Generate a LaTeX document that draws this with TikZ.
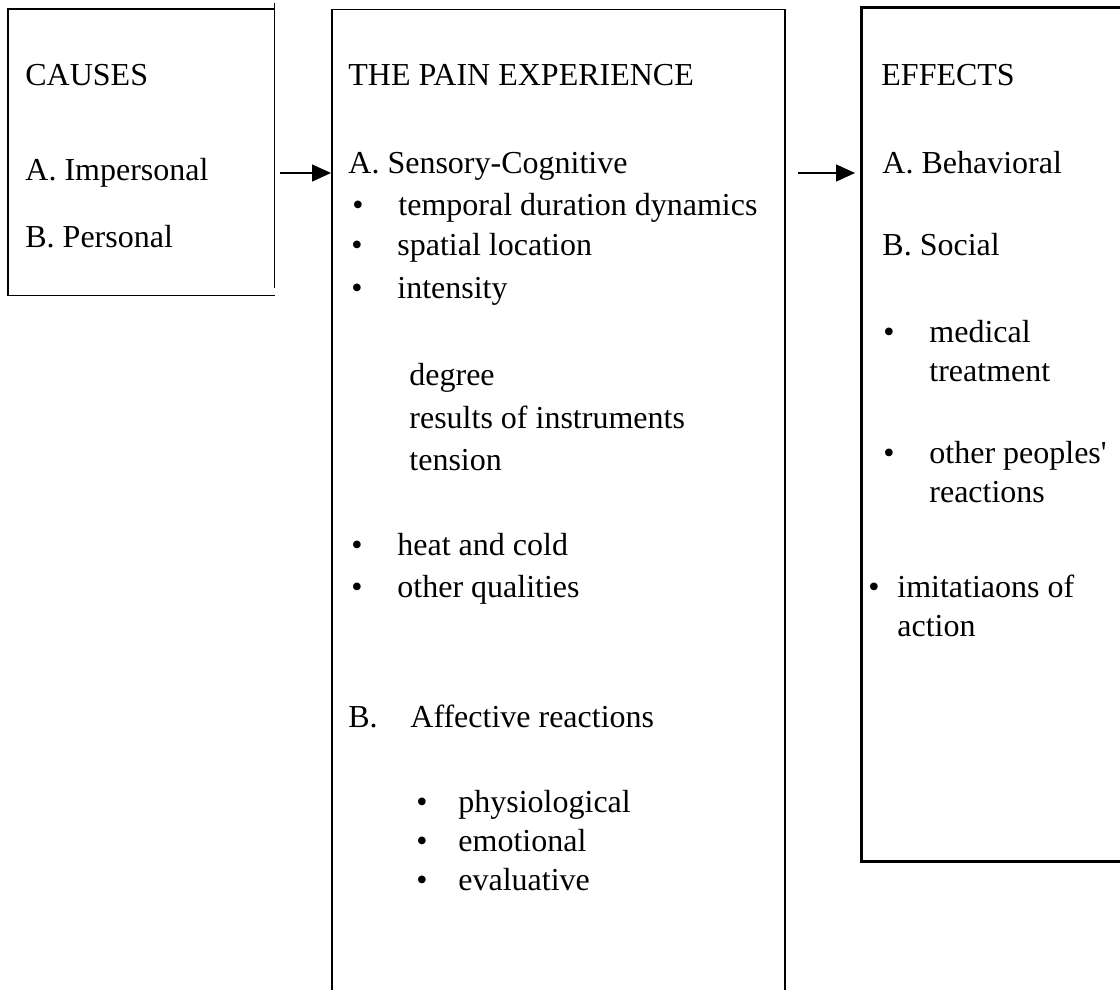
\documentclass[tikz,border=0pt]{standalone}
\usepackage{fontspec}
\setmainfont{Liberation Serif}
\usetikzlibrary{arrows.meta}

\begin{document}
\begin{tikzpicture}[x=0.5pt, y=-0.5pt,
        txt/.style={anchor=base west, inner sep=0pt, font=\fontsize{16pt}{19pt}\selectfont},
        panel/.style={anchor=north west, inner sep=0pt, line width=0.75pt},
        thickpanel/.style={panel, line width=1.5pt},
        link/.style={line width=0.75pt, -{Triangle[length=9.5pt, width=8.5pt]}}
    ]
        \useasboundingbox (0,0) rectangle (1120,990);

        % Boxes
        \node[panel, minimum width=132.5pt, minimum height=142.5pt] (causes) at (8,9) {};
        \draw[line width=0.75pt] (causes.south east) -- (causes.south west) -- (causes.north west) -- (causes.north east);
        \draw[line width=0.75pt] ([yshift=3pt]causes.north east) -- ([yshift=4pt]causes.south east);
        \node[panel, draw, minimum width=226.5pt, minimum height=500.5pt] (pain) at (331,9) {};
        \node[thickpanel, draw, minimum width=140pt, minimum height=427pt] (effects) at (860,6) {};

        % Arrows
        \coordinate (a1) at (280,173);
        \coordinate (a2) at (798,173);
        \draw[link] (a1) -- (a1 -| pain.west);
        \draw[link] (a2) -- ([xshift=-2.5pt]a2 -| effects.west);

        % Causes
        \node[txt] (ctitle) at (25,86) {CAUSES};
        \node[txt] (cimp) at (25,181) {A. Impersonal};
        \node[txt] (cper) at (25,248) {B. Personal};

        % The pain experience
        \node[txt] (ptitle) at (348,86) {THE PAIN EXPERIENCE};
        \node[txt] (psens) at (348,174) {A. Sensory-Cognitive};
        \node[txt] (pb1) at (352,215) {\textbullet};
        \node[txt] (ptemp) at (398,215) {temporal duration dynamics};
        \node[txt] (pb2) at (351,256) {\textbullet};
        \node[txt] (pspat) at (397,256) {spatial location};
        \node[txt] (pb3) at (351,299) {\textbullet};
        \node[txt] (pint) at (397,299) {intensity};
        \node[txt] (pdeg) at (409,385) {degree};
        \node[txt] (pres) at (409,428) {results of instruments};
        \node[txt] (pten) at (409,470) {tension};
        \node[txt] (pb4) at (351,555) {\textbullet};
        \node[txt] (pheat) at (397,555) {heat and cold};
        \node[txt] (pb5) at (351,597) {\textbullet};
        \node[txt] (poth) at (397,597) {other qualities};
        \node[txt] (paffb) at (348,727) {B.};
        \node[txt] (paff) at (410,727) {Affective reactions};
        \node[txt] (pb6) at (416,812) {\textbullet};
        \node[txt] (pphys) at (458,812) {physiological};
        \node[txt] (pb7) at (416,851) {\textbullet};
        \node[txt] (pemo) at (458,851) {emotional};
        \node[txt] (pb8) at (416,890) {\textbullet};
        \node[txt] (peval) at (458,890) {evaluative};

        % Effects
        \node[txt] (etitle) at (881,86) {EFFECTS};
        \node[txt] (ebeh) at (882,174) {A. Behavioral};
        \node[txt] (esoc) at (882,256) {B. Social};
        \node[txt] (eb1) at (883,342) {\textbullet};
        \node[txt] (emed) at (929,342) {medical};
        \node[txt] (etreat) at (929,381) {treatment};
        \node[txt] (eb2) at (883,463) {\textbullet};
        \node[txt] (eoth) at (929,463) {other peoples\textquotesingle};
        \node[txt] (ereac) at (929,502) {reactions};
        \node[txt] (eb3) at (868,597) {\textbullet};
        \node[txt] (eimit) at (897,597) {imitatiaons of};
        \node[txt] (eact) at (897,636) {action};
    \end{tikzpicture}
\end{document}
